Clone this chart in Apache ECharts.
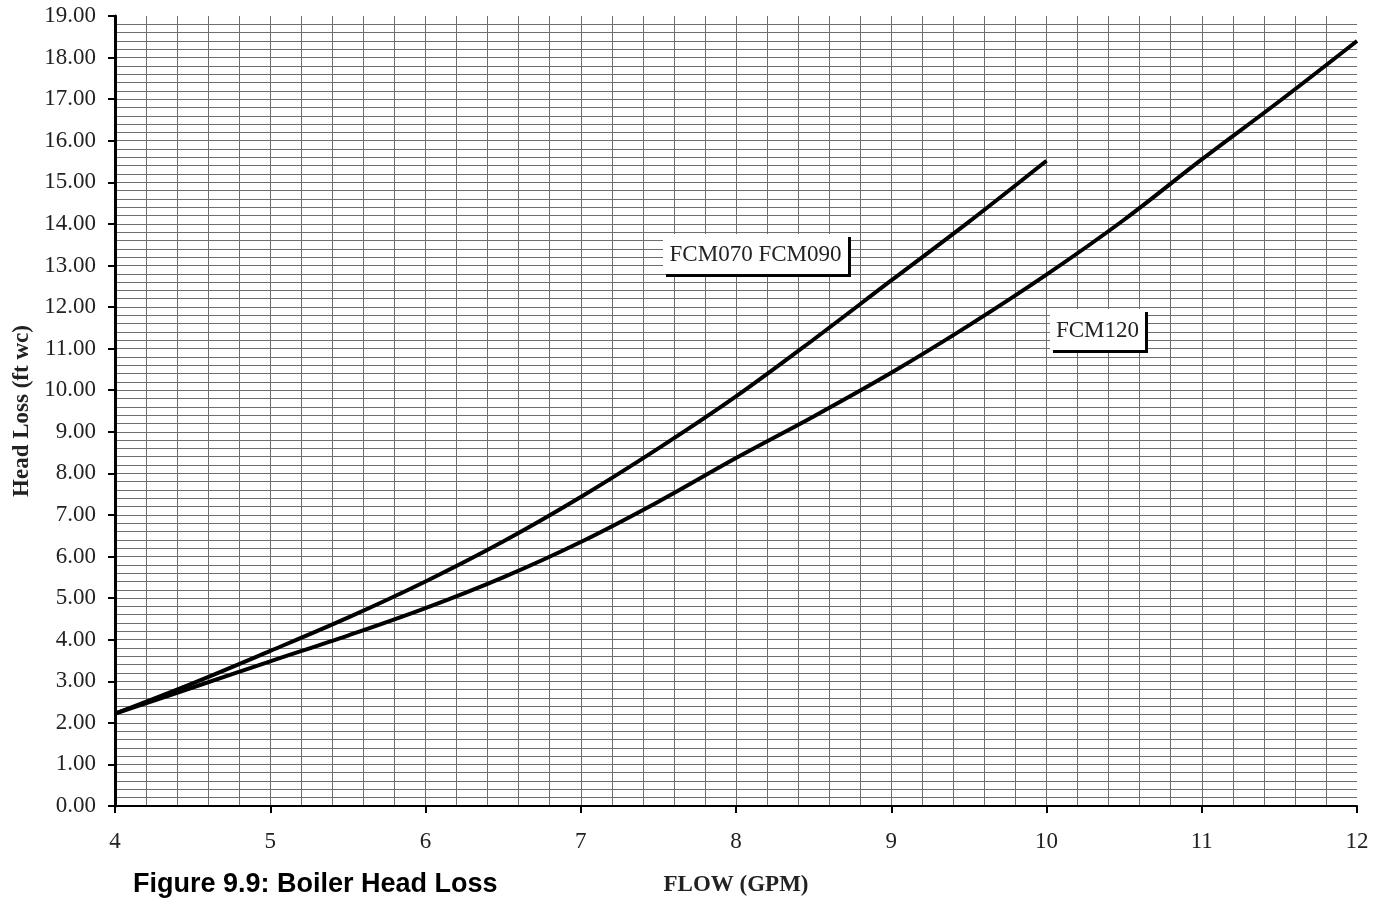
<!DOCTYPE html>
<html>
<head>
<meta charset="utf-8">
<script src="https://cdn.jsdelivr.net/npm/echarts@6/dist/echarts.min.js"></script>
<style>
html,body{margin:0;padding:0;background:#fff;}
#main{width:1382px;height:899px;}
</style>
</head>
<body>
<div id="main"></div>
<script>
// Data
const flowFCM070 = [4, 4.5, 5, 5.5, 6, 6.5, 7, 7.5, 8, 8.5, 9, 9.5, 10];
const headFCM070 = [2.22, 2.95, 3.73, 4.53, 5.40, 6.36, 7.43, 8.60, 9.85, 11.22, 12.64, 14.05, 15.52];
const flowFCM120 = [4, 4.5, 5, 5.5, 6, 6.5, 7, 7.5, 8, 8.5, 9, 9.5, 10, 10.5, 11, 11.5, 12];
const headFCM120 = [2.22, 2.85, 3.48, 4.10, 4.76, 5.50, 6.35, 7.32, 8.37, 9.37, 10.42, 11.56, 12.78, 14.10, 15.55, 16.95, 18.40];
const labelFCM070 = 'FCM070 FCM090';
const labelFCM120 = 'FCM120';
const xTitle = 'FLOW (GPM)';
const yTitle = 'Head Loss (ft wc)';
const figTitle = 'Figure 9.9: Boiler Head Loss';

const serif = '"Liberation Serif", "DejaVu Serif", serif';
const chart = echarts.init(document.getElementById('main'));

function pairs(xs, ys){ return xs.map((x,i)=>[x, ys[i]]); }

const gridStyle = {color:'#6e6e6e', width:1, type:'solid'};

function labelBox(left, top, w, h, text){
  return {type:'group', left:left, top:top, z:100, children:[
    {type:'rect', z:100, shape:{x:3,y:3,width:w,height:h}, style:{fill:'#000'}},
    {type:'rect', z:101, shape:{x:0,y:0,width:w,height:h}, style:{fill:'#fff'}},
    {type:'text', z:102, x:w/2, y:h/2+1, style:{text:text, fontFamily:serif, fontSize:23, fill:'#222', align:'center', verticalAlign:'middle'}}
  ]};
}

chart.setOption({
  animation:false,
  backgroundColor:'#fff',
  grid:{left:115, right:25, top:16, bottom:93, containLabel:false, outerBoundsMode:'none'},
  xAxis:{
    type:'value', min:4, max:12, interval:1,
    axisLine:{show:true, onZero:false, lineStyle:{color:'#000', width:2}},
    axisTick:{show:true, length:7, lineStyle:{color:'#000', width:2}},
    axisLabel:{color:'#222', fontFamily:serif, fontSize:23, margin:24},
    splitLine:{show:true, lineStyle:gridStyle, showMaxLine:false, showMinLine:false},
    minorTick:{show:false, splitNumber:5},
    minorSplitLine:{show:true, lineStyle:gridStyle},
    name:xTitle, nameLocation:'middle', nameGap:68,
    nameTextStyle:{fontFamily:serif, fontWeight:'bold', fontSize:23, color:'#222'}
  },
  yAxis:{
    type:'value', min:0, max:19, interval:1,
    axisLine:{show:true, onZero:false, lineStyle:{color:'#000', width:3}},
    axisTick:{show:true, length:7, lineStyle:{color:'#000', width:2}},
    axisLabel:{color:'#222', fontFamily:serif, fontSize:23, margin:19, formatter:v=>v.toFixed(2)},
    splitLine:{show:true, lineStyle:gridStyle, showMaxLine:false, showMinLine:false},
    minorTick:{show:false, splitNumber:5},
    minorSplitLine:{show:true, lineStyle:gridStyle},
    name:yTitle, nameLocation:'middle', nameGap:81, nameRotate:90,
    nameTextStyle:{fontFamily:serif, fontWeight:'bold', fontSize:23, color:'#222'}
  },
  series:[
    {type:'line', name:labelFCM070, data:pairs(flowFCM070, headFCM070), smooth:0.35, symbol:'none',
     lineStyle:{color:'#000', width:4}},
    {type:'line', name:labelFCM120, data:pairs(flowFCM120, headFCM120), smooth:0.35, symbol:'none',
     lineStyle:{color:'#000', width:4}}
  ],
  graphic:[
    labelBox(663, 234, 185, 40, labelFCM070),
    labelBox(1050, 309, 95, 41, labelFCM120),
    {type:'text', left:133, top:871, style:{text:figTitle, fontFamily:'"Liberation Sans", Arial, sans-serif', fontWeight:'bold', fontSize:27, fill:'#000'}}
  ]
});
</script>
</body>
</html>
